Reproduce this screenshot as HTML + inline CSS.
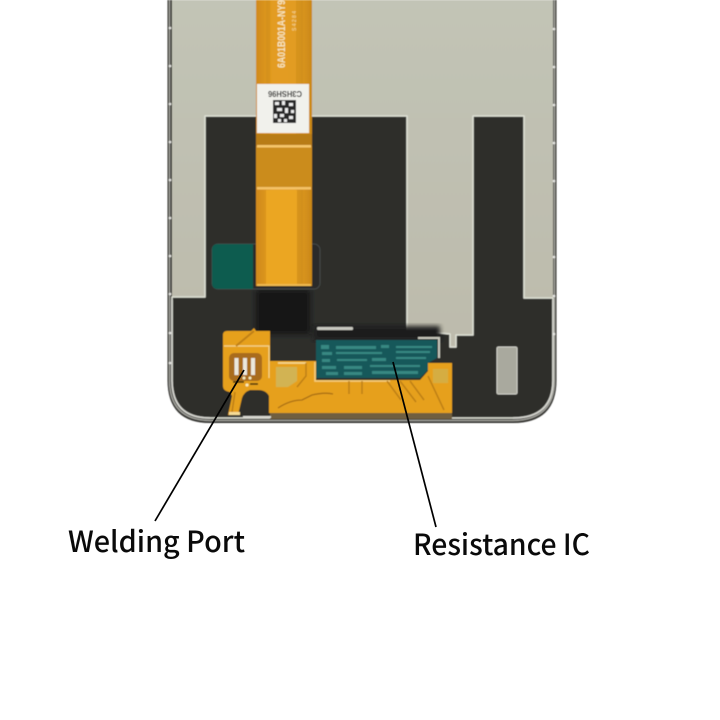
<!DOCTYPE html>
<html>
<head>
<meta charset="utf-8">
<style>
html,body{margin:0;padding:0;background:#fff;width:720px;height:720px;overflow:hidden}
svg{display:block}
</style>
</head>
<body>
<svg width="720" height="720" viewBox="0 0 720 720" xmlns="http://www.w3.org/2000/svg">
<defs>
<linearGradient id="sil" x1="0" y1="0" x2="0" y2="1"><stop offset="0" stop-color="#c2c4b6"/><stop offset="1" stop-color="#bcb9aa"/></linearGradient>
<linearGradient id="org" x1="0" y1="0" x2="1" y2="0"><stop offset="0" stop-color="#d08a1a"/><stop offset=".3" stop-color="#e39c20"/><stop offset=".75" stop-color="#e29c20"/><stop offset="1" stop-color="#c98718"/></linearGradient>
<filter id="soft" x="-5%" y="-5%" width="110%" height="110%"><feGaussianBlur stdDeviation="0.6"/></filter>
<filter id="softer" x="-20%" y="-20%" width="140%" height="140%"><feGaussianBlur stdDeviation="2.500"/></filter>
</defs>
<rect width="720" height="720" fill="#fff"/>
<g filter="url(#soft)">
<!-- frame -->
<path d="M167.500,0 V380 Q167.500,423 210,423 H513 Q556.500,423 556.500,380 V0 Z" fill="#33322f"/>
<path d="M169.500,0 V380 Q169.500,420 210,420.500 H513 Q554.500,420 554.500,380 V0" fill="none" stroke="#a2a29c" stroke-width="1.500"/>
<!-- silver sheet -->
<path d="M172,0 H553 V380 Q553,418 513,418 H210 Q172,418 172,380 Z" fill="url(#sil)"/>
<!-- black film -->
<path d="M172,297 H205 V116 H407 V330 L450,334 V347 H456 V335 H473 V116 H524 V298 H553 V380 Q553,418 513,418 H210 Q172,418 172,380 Z" fill="#2d2e2c" stroke="#dfe1d6" stroke-width="1.500" stroke-linejoin="round"/>
<path d="M172,300 V380 Q172,418 210,418" fill="none" stroke="#d8d8d2" stroke-width="1.500"/>
<path d="M553,300 V380 Q553,418 513,418" fill="none" stroke="#d8d8d2" stroke-width="1.500"/>
<rect x="256" y="290" width="54" height="44" fill="#141414" filter="url(#softer)"/>
<rect x="314" y="326" width="126" height="14" fill="#1b1b1a" filter="url(#softer)"/>
<!-- edge dots -->
<g fill="#e8e8e4">
<circle cx="170" cy="28" r="1.300"/><circle cx="170" cy="66" r="1.300"/><circle cx="170" cy="104" r="1.300"/><circle cx="170" cy="142" r="1.300"/><circle cx="170" cy="180" r="1.300"/><circle cx="170" cy="218" r="1.300"/><circle cx="170" cy="256" r="1.300"/><circle cx="170" cy="294" r="1.300"/><circle cx="170" cy="333" r="1.300"/><circle cx="170" cy="363" r="1.300"/>
<circle cx="554" cy="29" r="1.300"/><circle cx="554" cy="67" r="1.300"/><circle cx="554" cy="105" r="1.300"/><circle cx="554" cy="143" r="1.300"/><circle cx="554" cy="181" r="1.300"/><circle cx="554" cy="257" r="1.300"/><circle cx="554" cy="296" r="1.300"/><circle cx="554" cy="334" r="1.300"/>
</g>
<!-- green patch + outline -->
<rect x="212" y="244" width="108" height="45" rx="6" fill="#2a2c2b" stroke="#454a48" stroke-width="1"/>
<path d="M218,244 H253 V289 H218 Q212,289 212,283 V250 Q212,244 218,244 Z" fill="#0f5c50"/>
<!-- silver pad -->
<rect x="497" y="347" width="20" height="47" rx="1.500" fill="#a9a99e" stroke="#cfcfc6" stroke-width="1"/>
<rect x="317" y="327" width="36" height="3" rx="1" fill="#c8c8c0"/>
<path d="M418,338 H439 V358" fill="none" stroke="#c8c8bc" stroke-width="2"/>
<!-- vertical FPC -->
<rect x="256" y="0" width="56" height="286" fill="url(#org)"/>
<rect x="266" y="0" width="4" height="286" fill="#d08d1b" opacity=".6"/>
<rect x="296" y="0" width="7" height="286" fill="#c5861a" opacity=".4"/>
<rect x="256" y="134" width="56" height="12" fill="#b87c18"/>
<rect x="256" y="147" width="56" height="40" fill="#cb8c1c"/>
<rect x="257" y="145" width="54" height="2.500" fill="#f6c66a"/>
<rect x="257" y="187" width="54" height="2.500" fill="#f4c266"/>
<rect x="266" y="190" width="31" height="96" fill="#eba624"/>
<rect x="257" y="284" width="54" height="2" fill="#f0ba50"/>
<text transform="translate(285,68) rotate(-90)" font-family="Liberation Sans,sans-serif" font-size="11" font-weight="bold" fill="#f7e6c0" textLength="68" lengthAdjust="spacingAndGlyphs">6A01B001A-NY9</text>
<text transform="translate(296,31) rotate(-90)" font-family="Liberation Sans,sans-serif" font-size="5" fill="#f7e0a8" textLength="20">S4284</text>
<!-- white label -->
<rect x="257" y="84" width="52" height="49" fill="#f1f1ec"/>
<text transform="translate(302,91) rotate(180)" font-family="Liberation Sans,sans-serif" font-size="8" font-weight="bold" fill="#222" textLength="34" lengthAdjust="spacingAndGlyphs">C3HSH96</text>
<rect x="273" y="100" width="23" height="23" fill="#2b2b2b"/>
<g fill="#eee">
<rect x="275" y="102" width="4" height="3"/><rect x="282" y="101" width="3" height="4"/><rect x="289" y="103" width="4" height="3"/><rect x="277" y="108" width="5" height="3"/><rect x="285" y="108" width="3" height="5"/><rect x="291" y="110" width="3" height="3"/><rect x="274" y="114" width="3" height="4"/><rect x="280" y="114" width="4" height="3"/><rect x="289" y="116" width="4" height="3"/><rect x="278" y="119" width="3" height="3"/><rect x="284" y="119" width="3" height="3"/>
</g>
<!-- bottom FPC -->
<rect x="270" y="412" width="182" height="7" fill="#6f5f40"/>
<path d="M227,331 H251 L254,328 L256,331 H270 V361 H316 V380 H420 L428,371 V363 H452 V413 H269 V396 Q266,390 258,390 H250 Q244,392 242,398 L238,415 H228 L232,396 L230,392 Q223,391 223,386 V335 Q223,331 227,331 Z" fill="#e6a01f"/>
<path d="M224,346 H269 V378" fill="none" stroke="#f5d48a" stroke-width="1.200"/>
<path d="M236,346 L254,331" stroke="#c08019" stroke-width="2" fill="none"/>
<path d="M235,392 L232,412" stroke="#bd7e18" stroke-width="1.500" fill="none"/>
<!-- solder pads -->
<rect x="229" y="353" width="33" height="28" rx="5" fill="#a96c1c"/>
<g fill="#ebe8dc"><rect x="234.500" y="358" width="4" height="17"/><rect x="243" y="358" width="4" height="17"/><rect x="251" y="358" width="4" height="17"/></g>
<g fill="#f8eebf"><circle cx="244" cy="378" r="1.500"/><circle cx="250" cy="378" r="1.500"/><circle cx="247" cy="385" r="1.500"/></g>
<path d="M233,382 H244 M250,384 H258" stroke="#3b2a10" stroke-width="1.500"/>
<rect x="229" y="412" width="11" height="3" fill="#f5dc96"/>
<rect x="243" y="416" width="28" height="2" fill="#d8d8d0"/>
<!-- pale pads on bottom FPC -->
<path d="M276,367 H297 V381 L288,387 H276 Z" fill="#d2b352"/>
<path d="M278,363 H306" stroke="#f6dc9a" stroke-width="1.500"/>
<path d="M315,362 V381 H390" fill="none" stroke="#f5cf80" stroke-width="1.500"/>
<path d="M433,369 H448 V383 H433 Z" fill="#d5ad42"/>
<path d="M278,408 Q290,400 302,400 L312,395 Q325,392 333,394" stroke="#a96e14" stroke-width="1.300" fill="none"/>
<path d="M297,387 L306,376 V363 M349,381 V394 M362,381 V394 M387,381 L401,400 M400,381 L416,402 M410,381 L424,400 M428,376 L444,410" stroke="#bd7f17" stroke-width="1.500" fill="none"/>
<!-- chip -->
<path d="M316,340 H437 V358 L428,363 V370 L420,378 H316 Z" fill="#14585a"/>
<g fill="#3f9189" opacity=".85">
<rect x="321" y="345" width="8" height="4"/><rect x="336" y="346" width="40" height="3"/><rect x="381" y="345" width="8" height="3"/><rect x="396" y="346" width="36" height="2"/>
<rect x="322" y="352" width="10" height="3"/><rect x="336" y="352" width="46" height="2"/><rect x="396" y="351" width="34" height="2"/>
<rect x="322" y="359" width="8" height="3"/><rect x="337" y="359" width="30" height="2"/><rect x="372" y="358" width="14" height="3"/><rect x="396" y="357" width="30" height="2"/>
<rect x="322" y="366" width="14" height="3"/><rect x="344" y="366" width="18" height="3"/><rect x="370" y="365" width="50" height="2"/>
<rect x="326" y="372" width="12" height="3"/><rect x="344" y="372" width="18" height="3"/><rect x="372" y="371" width="46" height="3"/>
</g>
</g>
<!-- leader lines -->
<line x1="244" y1="370" x2="155" y2="521" stroke="#000" stroke-width="1.700"/>
<line x1="393" y1="362" x2="436" y2="527" stroke="#000" stroke-width="1.700"/>
<!-- labels -->
<text x="68" y="552" font-family="Noto Sans CJK SC,Liberation Sans,sans-serif" font-size="29" font-weight="500" fill="#0a0a0a" textLength="177" lengthAdjust="spacingAndGlyphs">Welding Port</text>
<text x="413" y="555" font-family="Noto Sans CJK SC,Liberation Sans,sans-serif" font-size="29" font-weight="500" fill="#0a0a0a" textLength="177" lengthAdjust="spacingAndGlyphs">Resistance IC</text>
</svg>
</body>
</html>
